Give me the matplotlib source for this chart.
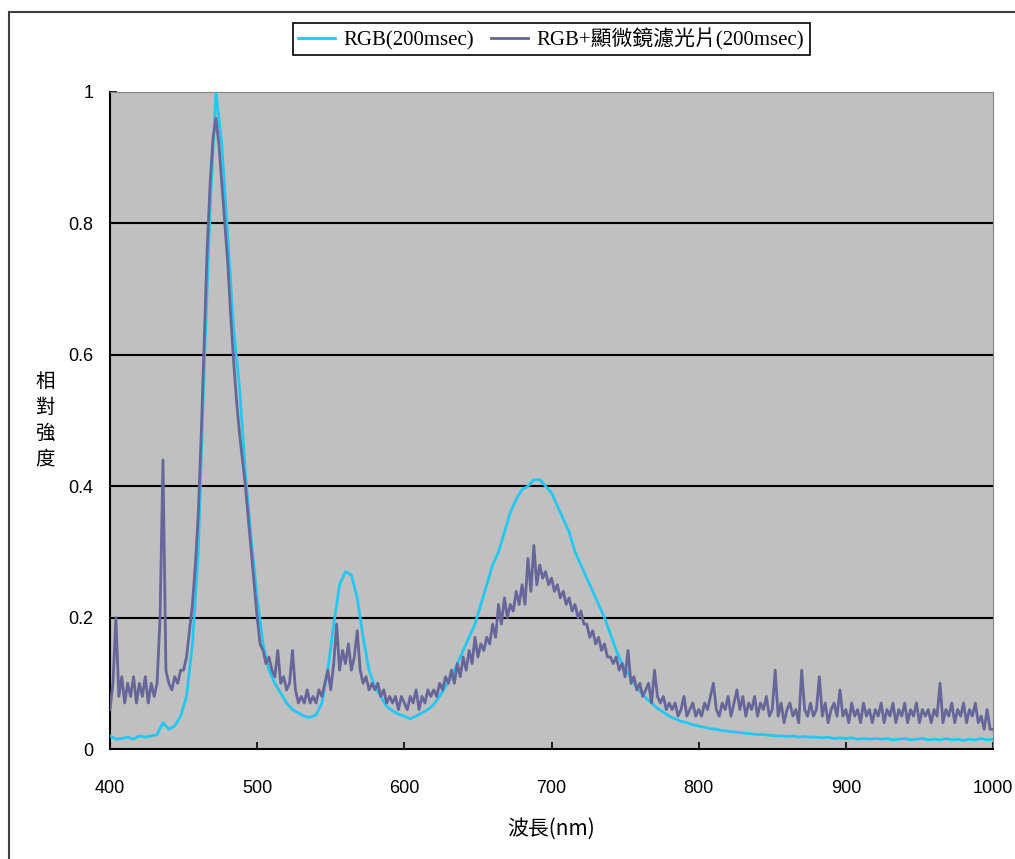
import numpy as np
import matplotlib
matplotlib.use("Agg")
import matplotlib.pyplot as plt
from matplotlib.lines import Line2D

plt.rcParams['font.family'] = ['Liberation Sans', 'Noto Sans CJK TC', 'DejaVu Sans']

# wavelength grids (nm)
wl_rgb = np.arange(400, 1001, 4)
wl_filter = np.arange(400, 1001, 2)

# RGB (200msec), every 4 nm
rgb = [
    0.020, 0.015, 0.016, 0.018, 0.015, 0.020, 0.018, 0.020, 0.022, 0.040,   # 400-436
    0.030, 0.035, 0.050, 0.080, 0.160, 0.300, 0.580, 0.820, 1.000, 0.920,   # 440-476
    0.780, 0.640, 0.550, 0.420, 0.320, 0.230, 0.160, 0.120, 0.100, 0.085,   # 480-516
    0.070, 0.060, 0.055, 0.050, 0.048, 0.052, 0.070, 0.120, 0.190, 0.250,   # 520-556
    0.270, 0.265, 0.230, 0.170, 0.120, 0.095, 0.080, 0.065, 0.058, 0.053,   # 560-596
    0.050, 0.046, 0.050, 0.055, 0.060, 0.068, 0.080, 0.095, 0.110, 0.130,   # 600-636
    0.150, 0.170, 0.190, 0.220, 0.250, 0.280, 0.300, 0.330, 0.360, 0.380,   # 640-676
    0.395, 0.400, 0.410, 0.410, 0.400, 0.390, 0.370, 0.350, 0.330, 0.300,   # 680-716
    0.280, 0.260, 0.240, 0.220, 0.200, 0.175, 0.150, 0.130, 0.115, 0.100,   # 720-756
    0.088, 0.078, 0.070, 0.062, 0.056, 0.050, 0.046, 0.042, 0.040, 0.037,   # 760-796
    0.035, 0.033, 0.031, 0.030, 0.028, 0.027, 0.026, 0.025, 0.024, 0.023,   # 800-836
    0.022, 0.022, 0.021, 0.020, 0.020, 0.019, 0.020, 0.018, 0.019, 0.018,   # 840-876
    0.018, 0.017, 0.018, 0.016, 0.017, 0.016, 0.017, 0.015, 0.016, 0.015,   # 880-916
    0.016, 0.015, 0.016, 0.014, 0.015, 0.016, 0.014, 0.015, 0.016, 0.014,   # 920-956
    0.015, 0.014, 0.016, 0.014, 0.015, 0.013, 0.015, 0.014, 0.016, 0.014,   # 960-996
    0.015,                                                                  # 1000
]

# RGB + microscope filter (200msec), every 2 nm
rgb_filter = [
    0.06, 0.10, 0.20, 0.08, 0.11, 0.07, 0.10, 0.08, 0.11, 0.07,   # 400-418
    0.10, 0.08, 0.11, 0.07, 0.10, 0.08, 0.10, 0.20, 0.44, 0.12,   # 420-438
    0.10, 0.09, 0.11, 0.10, 0.12, 0.12, 0.14, 0.18, 0.22, 0.28,   # 440-458
    0.36, 0.48, 0.62, 0.76, 0.86, 0.93, 0.96, 0.92, 0.86, 0.80,   # 460-478
    0.74, 0.66, 0.59, 0.53, 0.48, 0.44, 0.40, 0.35, 0.30, 0.25,   # 480-498
    0.20, 0.16, 0.15, 0.13, 0.14, 0.12, 0.11, 0.15, 0.10, 0.11,   # 500-518
    0.09, 0.10, 0.15, 0.09, 0.07, 0.08, 0.07, 0.09, 0.07, 0.08,   # 520-538
    0.07, 0.09, 0.08, 0.10, 0.12, 0.09, 0.13, 0.19, 0.12, 0.15,   # 540-558
    0.13, 0.16, 0.12, 0.14, 0.18, 0.12, 0.10, 0.11, 0.09, 0.10,   # 560-578
    0.09, 0.10, 0.08, 0.09, 0.07, 0.08, 0.07, 0.08, 0.06, 0.08,   # 580-598
    0.07, 0.06, 0.08, 0.07, 0.09, 0.06, 0.08, 0.07, 0.09, 0.08,   # 600-618
    0.09, 0.08, 0.10, 0.09, 0.11, 0.10, 0.12, 0.10, 0.13, 0.11,   # 620-638
    0.14, 0.12, 0.15, 0.13, 0.17, 0.14, 0.16, 0.15, 0.17, 0.16,   # 640-658
    0.19, 0.17, 0.22, 0.19, 0.23, 0.20, 0.22, 0.21, 0.24, 0.22,   # 660-678
    0.25, 0.22, 0.29, 0.24, 0.31, 0.25, 0.28, 0.26, 0.27, 0.25,   # 680-698
    0.26, 0.24, 0.25, 0.23, 0.24, 0.22, 0.23, 0.21, 0.22, 0.20,   # 700-718
    0.21, 0.19, 0.19, 0.17, 0.18, 0.16, 0.17, 0.15, 0.16, 0.14,   # 720-738
    0.14, 0.13, 0.14, 0.12, 0.13, 0.11, 0.15, 0.10, 0.11, 0.09,   # 740-758
    0.10, 0.08, 0.09, 0.10, 0.07, 0.12, 0.08, 0.07, 0.08, 0.06,   # 760-778
    0.07, 0.06, 0.07, 0.05, 0.06, 0.08, 0.05, 0.06, 0.07, 0.05,   # 780-798
    0.06, 0.05, 0.07, 0.06, 0.08, 0.10, 0.06, 0.05, 0.07, 0.06,   # 800-818
    0.08, 0.05, 0.07, 0.09, 0.06, 0.08, 0.05, 0.07, 0.06, 0.08,   # 820-838
    0.05, 0.07, 0.06, 0.08, 0.05, 0.06, 0.12, 0.05, 0.07, 0.04,   # 840-858
    0.06, 0.07, 0.05, 0.06, 0.04, 0.12, 0.06, 0.05, 0.07, 0.05,   # 860-878
    0.06, 0.11, 0.05, 0.07, 0.04, 0.06, 0.07, 0.05, 0.09, 0.05,   # 880-898
    0.06, 0.04, 0.07, 0.05, 0.06, 0.04, 0.07, 0.05, 0.06, 0.04,   # 900-918
    0.06, 0.05, 0.07, 0.04, 0.06, 0.05, 0.07, 0.04, 0.06, 0.05,   # 920-938
    0.07, 0.04, 0.06, 0.05, 0.07, 0.04, 0.06, 0.05, 0.06, 0.04,   # 940-958
    0.06, 0.05, 0.10, 0.04, 0.06, 0.05, 0.07, 0.04, 0.06, 0.05,   # 960-978
    0.07, 0.04, 0.06, 0.05, 0.07, 0.04, 0.05, 0.03, 0.06, 0.03,   # 980-998
    0.03,                                                         # 1000
]

x_ticks = [400, 500, 600, 700, 800, 900, 1000]
y_ticks = [0, 0.2, 0.4, 0.6, 0.8, 1]
y_tick_labels = ["0", "0.2", "0.4", "0.6", "0.8", "1"]

fig = plt.figure(figsize=(10.15, 8.59), dpi=100)
ax = fig.add_axes([110 / 1015, 1 - 749 / 859, (993 - 110) / 1015, (749 - 92) / 859])
ax.set_facecolor('#C0C0C0')

ax.plot(wl_rgb, rgb, color='#22C8F2', lw=2.0, label='RGB(200msec)', zorder=3)
ax.plot(wl_filter, rgb_filter, color='#666699', lw=2.0, label='RGB+顯微鏡濾光片(200msec)', zorder=4)

ax.set_xlim(400, 1000)
ax.set_ylim(0, 1)
ax.set_xticks(x_ticks)
ax.set_yticks(y_ticks)
ax.set_yticklabels(y_tick_labels)
ax.tick_params(direction='in', length=5, width=1.2, labelsize=13, pad=12)
ax.tick_params(axis='x', pad=22)

for yv in [0.2, 0.4, 0.6, 0.8]:
    ax.axhline(yv, color='black', lw=1.5, zorder=1)

ax.spines['left'].set_linewidth(1.5)
ax.spines['bottom'].set_linewidth(1.5)
ax.spines['top'].set_color('#808080')
ax.spines['right'].set_color('#808080')

# stacked vertical y label and x label
fig.text(45 / 1015, 1 - 420 / 859, "相\n對\n強\n度", ha='center', va='center',
         fontsize=14, linespacing=1.3, family=['Noto Sans CJK TC', 'DejaVu Sans'])
fig.text(551 / 1015, 1 - 829 / 859, "波長(nm)", ha='center', va='center',
         fontsize=15, family=['Noto Sans CJK TC', 'DejaVu Sans'])

leg = fig.legend(loc='center', bbox_to_anchor=(551 / 1015, 1 - 39 / 859), ncol=2,
                 frameon=True, fancybox=False, framealpha=1, edgecolor='black',
                 handlelength=1.8, columnspacing=0.8, handletextpad=0.4,
                 borderpad=0.25,
                 prop={'family': ['Liberation Serif', 'Noto Sans CJK TC'], 'size': 15})
leg.get_frame().set_linewidth(1.2)

# outer chart border
fig.add_artist(Line2D([9 / 1015, 9 / 1015], [0, 1 - 12 / 859], transform=fig.transFigure,
                      color='#404040', lw=1.5))
fig.add_artist(Line2D([9 / 1015, 1], [1 - 12 / 859, 1 - 12 / 859], transform=fig.transFigure,
                      color='#404040', lw=1.5))

fig.savefig("out.png", dpi=100)
